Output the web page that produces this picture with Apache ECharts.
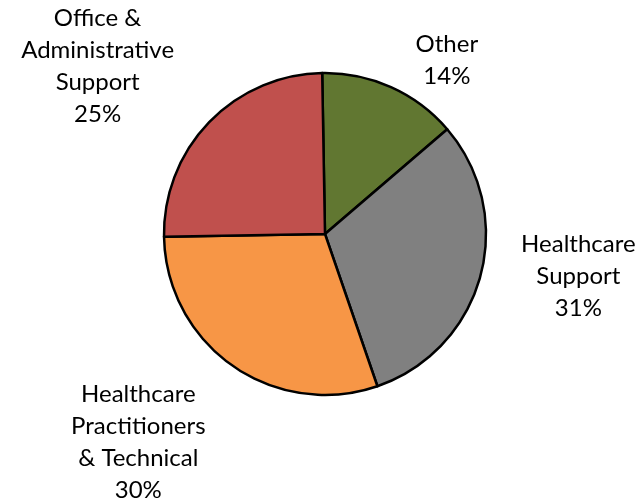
<!DOCTYPE html>
<html>
<head>
<meta charset="utf-8">
<script src="https://cdn.jsdelivr.net/npm/echarts@6/dist/echarts.min.js"></script>
<style>
  html, body { margin: 0; padding: 0; background: #ffffff; }
  #chart { width: 642px; height: 500px; }
</style>
</head>
<body>
<div id="chart"></div>
<script>
// Occupational groups, drawn clockwise from the top
const categories = ['Other', 'Healthcare\nSupport', 'Healthcare\nPractitioners\n& Technical', 'Office &\nAdministrative\nSupport'];
const shares = [14, 31, 30, 25];
const sliceColors = ['#617731', '#808080', '#F79646', '#C0504D'];
// Per-slice leader geometry used only to place the (hidden-line) labels
const leadLength = [29, 0, 93, 80];
const leadLength2 = [44, 98, 41, 54];

const chart = echarts.init(document.getElementById('chart'), null, { renderer: 'canvas' });

const data = categories.map((name, i) => ({
  name: name,
  value: shares[i],
  itemStyle: { color: sliceColors[i] },
  labelLine: { show: false, length: leadLength[i], length2: leadLength2[i] }
}));

chart.setOption({
  animation: false,
  backgroundColor: '#ffffff',
  series: [{
    type: 'pie',
    center: [325, 234],
    radius: 161,
    startAngle: 91,
    clockwise: true,
    avoidLabelOverlap: false,
    data: data,
    itemStyle: { borderColor: '#000000', borderWidth: 2.5 },
    label: {
      show: true,
      position: 'outside',
      alignTo: 'none',
      bleedMargin: -400,
      distanceToLabelLine: 0,
      formatter: p => p.name + '\n' + p.value + '%',
      fontFamily: 'Lato, "Open Sans", sans-serif',
      fontSize: 24,
      lineHeight: 32,
      color: '#000000'
    },
    labelLayout: function () {
      return { align: 'center', verticalAlign: 'middle' };
    },
    emphasis: { disabled: true }
  }]
});
</script>
</body>
</html>
